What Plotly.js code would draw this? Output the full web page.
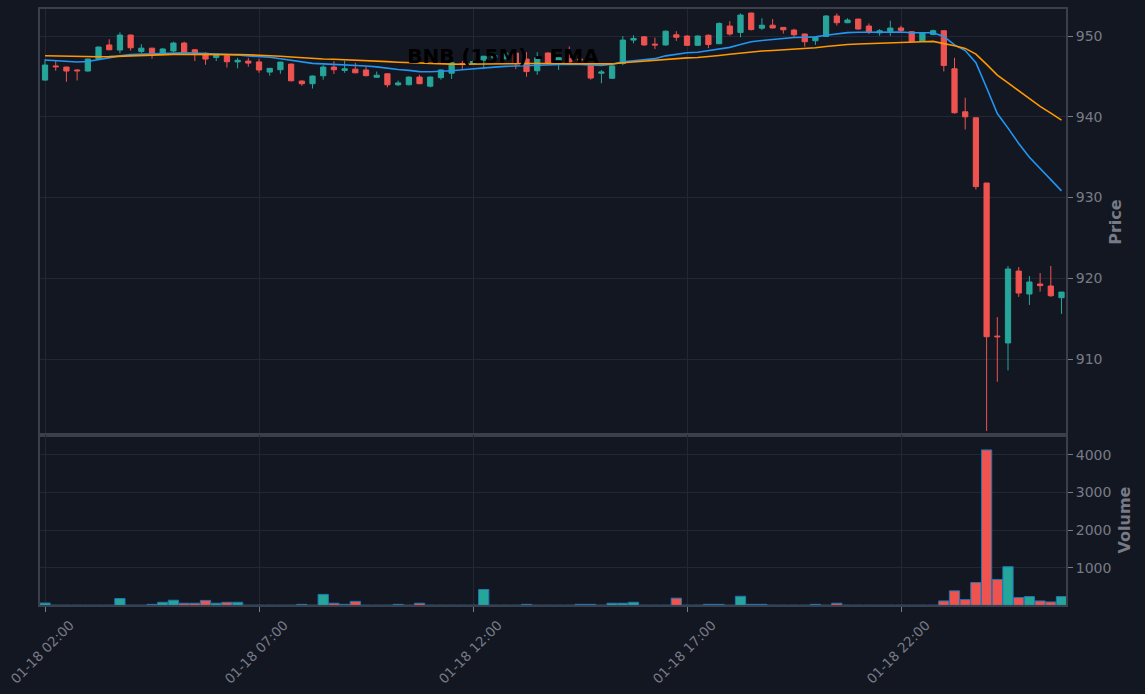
<!DOCTYPE html>
<html><head><meta charset="utf-8">
<script src="https://cdn.plot.ly/plotly-3.0.1.min.js"></script>
<style>html,body{margin:0;padding:0;background:#131722;}#chart{width:1145px;height:694px;}</style>
</head><body><div id="chart"></div>
<script>
const times = [
'2026-01-18 02:00','2026-01-18 02:15','2026-01-18 02:30','2026-01-18 02:45',
'2026-01-18 03:00','2026-01-18 03:15','2026-01-18 03:30','2026-01-18 03:45',
'2026-01-18 04:00','2026-01-18 04:15','2026-01-18 04:30','2026-01-18 04:45',
'2026-01-18 05:00','2026-01-18 05:15','2026-01-18 05:30','2026-01-18 05:45',
'2026-01-18 06:00','2026-01-18 06:15','2026-01-18 06:30','2026-01-18 06:45',
'2026-01-18 07:00','2026-01-18 07:15','2026-01-18 07:30','2026-01-18 07:45',
'2026-01-18 08:00','2026-01-18 08:15','2026-01-18 08:30','2026-01-18 08:45',
'2026-01-18 09:00','2026-01-18 09:15','2026-01-18 09:30','2026-01-18 09:45',
'2026-01-18 10:00','2026-01-18 10:15','2026-01-18 10:30','2026-01-18 10:45',
'2026-01-18 11:00','2026-01-18 11:15','2026-01-18 11:30','2026-01-18 11:45',
'2026-01-18 12:00','2026-01-18 12:15','2026-01-18 12:30','2026-01-18 12:45',
'2026-01-18 13:00','2026-01-18 13:15','2026-01-18 13:30','2026-01-18 13:45',
'2026-01-18 14:00','2026-01-18 14:15','2026-01-18 14:30','2026-01-18 14:45',
'2026-01-18 15:00','2026-01-18 15:15','2026-01-18 15:30','2026-01-18 15:45',
'2026-01-18 16:00','2026-01-18 16:15','2026-01-18 16:30','2026-01-18 16:45',
'2026-01-18 17:00','2026-01-18 17:15','2026-01-18 17:30','2026-01-18 17:45',
'2026-01-18 18:00','2026-01-18 18:15','2026-01-18 18:30','2026-01-18 18:45',
'2026-01-18 19:00','2026-01-18 19:15','2026-01-18 19:30','2026-01-18 19:45',
'2026-01-18 20:00','2026-01-18 20:15','2026-01-18 20:30','2026-01-18 20:45',
'2026-01-18 21:00','2026-01-18 21:15','2026-01-18 21:30','2026-01-18 21:45',
'2026-01-18 22:00','2026-01-18 22:15','2026-01-18 22:30','2026-01-18 22:45',
'2026-01-18 23:00','2026-01-18 23:15','2026-01-18 23:30','2026-01-18 23:45',
'2026-01-19 00:00','2026-01-19 00:15','2026-01-19 00:30','2026-01-19 00:45',
'2026-01-19 01:00','2026-01-19 01:15','2026-01-19 01:30','2026-01-19 01:45'];

const open = [944.55,946.3,946.16,945.8,945.67,947.15,948.9,948.27,950.12,948.1,948.5,947.8,
948.15,949.13,948.3,947.86,947.35,947.56,946.8,946.9,946.8,945.54,945.83,946.53,
944.43,944.1,945.08,946.16,945.75,945.9,945.8,944.9,945.33,943.97,943.97,944.92,
943.8,944.85,945.4,946.6,946.6,947.0,947.3,947.2,947.9,947.15,945.7,947.9,
946.6,947.2,947.15,946.37,945.4,944.77,946.6,949.5,949.9,949.0,948.9,950.15,
950.0,948.85,950.1,949.05,951.24,950.45,952.85,950.98,951.34,951.07,950.74,950.25,
949.42,949.95,952.48,951.65,952.1,951.24,950.4,950.58,951.0,950.54,949.34,950.2,
950.66,945.95,940.62,939.88,931.8,912.85,912.0,920.9,918.06,919.3,919.05,917.6];

const high = [947.15,947.0,946.2,945.9,947.2,948.7,949.6,950.46,950.2,949.0,948.55,948.5,
949.3,949.3,948.4,948.0,947.8,947.6,947.3,947.3,947.2,946.0,946.8,946.6,
944.5,945.1,946.4,946.9,946.95,946.7,946.3,945.6,945.4,944.5,945.0,945.2,
945.0,945.85,946.75,946.9,947.0,947.55,947.8,948.0,948.3,948.0,948.0,948.0,
947.4,948.7,947.3,946.4,945.8,946.4,950.0,950.1,950.0,949.8,950.7,950.6,
950.1,950.1,950.2,951.7,951.85,952.8,952.9,952.2,952.1,951.1,950.9,950.3,
949.9,952.6,952.8,952.2,952.15,951.57,950.87,951.9,951.28,950.6,950.4,950.8,
950.7,947.3,942.36,939.9,931.8,915.2,921.53,921.4,920.29,920.66,921.53,918.3];

const low = [944.5,945.7,944.34,944.5,945.6,947.1,948.25,947.86,948.2,947.9,947.2,947.7,
948.0,947.9,946.9,946.45,946.9,946.1,946.0,946.2,945.45,945.1,945.33,944.4,
943.85,943.5,944.6,945.3,945.45,945.4,945.0,944.85,943.65,943.8,943.9,944.05,
943.65,944.6,944.7,945.9,946.5,945.9,947.1,947.1,945.9,944.96,945.2,946.5,
945.8,946.7,946.9,944.6,944.15,944.7,946.4,949.1,948.8,948.4,948.8,949.4,
948.8,948.8,948.5,949.0,950.05,949.85,950.7,950.75,950.95,950.3,949.9,948.7,
948.9,949.9,951.3,951.6,950.8,950.25,950.04,950.0,950.45,949.3,949.3,950.1,
945.62,940.4,938.43,931.0,901.1,907.2,908.6,917.7,916.7,918.35,917.7,915.6];

const close = [946.41,946.2,945.67,945.7,947.15,948.64,948.3,950.12,948.55,948.5,947.8,948.4,
949.13,947.98,947.86,947.15,947.7,946.82,947.0,946.65,945.8,946.0,946.78,944.46,
944.1,945.05,946.16,945.83,945.95,945.45,945.1,945.15,943.97,944.2,944.92,944.1,
944.92,945.8,946.7,946.5,946.85,947.5,947.6,947.9,946.65,945.6,947.3,946.6,
947.3,946.8,947.05,944.8,945.55,946.3,949.5,949.7,948.9,948.9,950.6,949.85,
948.85,950.0,948.95,951.56,950.25,952.6,950.8,951.34,951.0,950.78,950.16,949.3,
949.83,952.48,951.65,951.98,950.87,950.5,950.65,950.99,950.7,949.34,950.33,950.66,
946.36,940.5,940.0,931.36,912.77,912.77,921.16,918.18,919.55,919.1,917.85,918.3];

const volume = [60,0,0,0,0,0,0,180,0,0,25,80,
135,55,55,130,55,80,80,0,0,0,0,0,
25,0,290,55,25,105,0,0,0,25,0,55,
0,0,0,0,0,420,0,0,0,25,0,0,
0,0,25,25,0,55,55,80,0,0,0,190,
0,0,25,25,0,240,25,25,0,0,0,0,
25,0,55,0,0,0,0,0,0,0,0,0,
116,385,152,607,4134,688,1027,205,232,116,89,232];

const emaFast = [947.03,946.95,946.85,946.78,946.85,947.1,947.36,947.55,947.7,947.75,947.8,947.85,
947.94,947.92,947.9,947.86,947.8,947.72,947.65,947.55,947.5,947.38,947.2,947.0,
946.8,946.62,946.55,946.5,946.45,946.41,946.3,946.18,946.0,945.85,945.75,945.6,
945.58,945.6,945.7,945.82,945.9,946.05,946.15,946.25,946.3,946.32,946.32,946.4,
946.45,946.5,946.48,946.42,946.37,946.5,946.8,946.94,947.1,947.2,947.55,947.75,
947.94,948.0,948.2,948.4,948.6,948.95,949.3,949.45,949.6,949.75,949.82,949.85,
949.9,950.1,950.3,950.42,950.48,950.5,950.5,950.5,950.5,950.4,950.4,950.4,
949.96,948.9,948.2,946.7,943.6,940.4,938.6,936.7,935.0,933.6,932.2,930.83];

const emaSlow = [947.56,947.52,947.5,947.46,947.44,947.44,947.45,947.5,947.58,947.62,947.66,947.7,
947.73,947.73,947.74,947.74,947.73,947.72,947.7,947.68,947.65,947.6,947.5,947.4,
947.3,947.22,947.16,947.12,947.08,947.03,946.97,946.9,946.83,946.76,946.7,946.62,
946.58,946.55,946.52,946.5,946.5,946.52,946.54,946.56,946.58,946.6,946.62,946.62,
946.6,946.58,946.55,946.52,946.5,946.55,946.7,946.8,946.95,947.03,947.1,947.2,
947.3,947.35,947.45,947.6,947.75,947.9,948.06,948.15,948.22,948.3,948.38,948.44,
948.55,948.7,948.85,948.95,949.02,949.08,949.14,949.18,949.22,949.25,949.3,949.34,
949.1,948.8,948.47,947.77,946.5,945.17,944.2,943.2,942.3,941.3,940.45,939.6];

const tickVals = ['2026-01-18 02:00','2026-01-18 07:00','2026-01-18 12:00','2026-01-18 17:00','2026-01-18 22:00'];
const tickText = ['01-18 02:00','01-18 07:00','01-18 12:00','01-18 17:00','01-18 22:00'];

const UP = '#26a69a', DOWN = '#ef5350';
const BG = '#131722', GRID = '#232733', FRAME = '#3b3f4b', TXT = '#787b86';
const STEP = 15 * 60 * 1000;
const toMs = s => new Date(s.replace(' ', 'T') + ':00Z').getTime();
const xRange = [toMs(times[0]) - 0.47 * STEP, toMs(times[times.length - 1]) + 0.42 * STEP];
const volColors = close.map((c, i) => c >= open[i] ? UP : DOWN);

const traces = [
  {type: 'candlestick', x: times, open: open, high: high, low: low, close: close,
   xaxis: 'x', yaxis: 'y', name: 'BNB',
   increasing: {line: {color: UP, width: 1}, fillcolor: UP},
   decreasing: {line: {color: DOWN, width: 1}, fillcolor: DOWN},
   showlegend: false},
  {type: 'scatter', mode: 'lines', x: times, y: emaFast, xaxis: 'x', yaxis: 'y',
   line: {color: '#2196f3', width: 1.6}, showlegend: false, name: 'EMA fast'},
  {type: 'scatter', mode: 'lines', x: times, y: emaSlow, xaxis: 'x', yaxis: 'y',
   line: {color: '#ff9800', width: 1.6}, showlegend: false, name: 'EMA slow'},
  {type: 'bar', x: times, y: volume, xaxis: 'x2', yaxis: 'y2', width: STEP * 0.96,
   marker: {color: volColors, line: {color: '#1f77b4', width: 1}}, showlegend: false, name: 'Volume'}
];

const axisCommon = {
  showline: true, linecolor: FRAME, linewidth: 2, mirror: true,
  gridcolor: GRID, zeroline: false, tickfont: {color: TXT, size: 14}
};

const layout = {
  width: 1145, height: 694,
  paper_bgcolor: BG, plot_bgcolor: BG,
  margin: {l: 40, r: 79, t: 9, b: 89},
  font: {family: 'DejaVu Sans, sans-serif', color: TXT},
  title: {text: '<b>BNB (15M) - EMA</b>', font: {color: '#000000', size: 20},
          x: 503 / 1145, xanchor: 'center', xref: 'container', y: 1 - 56 / 694, yanchor: 'middle', yref: 'container'},
  bargap: 0.04,
  xaxis: Object.assign({}, axisCommon, {type: 'date', anchor: 'y', range: xRange,
    rangeslider: {visible: false}, showticklabels: false, tickvals: tickVals, ticks: ''}),
  xaxis2: Object.assign({}, axisCommon, {type: 'date', anchor: 'y2', matches: 'x', range: xRange,
    tickvals: tickVals, ticktext: tickText, tickangle: -45, ticks: 'outside', ticklen: 5, tickcolor: TXT,
    ticklabelshift: 25, ticklabeloverflow: 'allow',
    tickfont: {color: TXT, size: 13.5}}),
  yaxis: Object.assign({}, axisCommon, {domain: [0.2852, 1], side: 'right', anchor: 'x',
    range: [900.6, 953.35], tickvals: [910, 920, 930, 940, 950], ticks: 'outside', ticklen: 5, tickcolor: TXT,
    title: {text: '<b>Price</b>', font: {color: TXT, size: 16}, standoff: 8}}),
  yaxis2: Object.assign({}, axisCommon, {domain: [0, 0.2852], side: 'right', anchor: 'x2',
    range: [8, 4530], tickvals: [1000, 2000, 3000, 4000], ticks: 'outside', ticklen: 5, tickcolor: TXT,
    title: {text: '<b>Volume</b>', font: {color: TXT, size: 16}, standoff: 8}})
};

Plotly.newPlot('chart', traces, layout, {displayModeBar: false, staticPlot: true});
</script></body></html>
